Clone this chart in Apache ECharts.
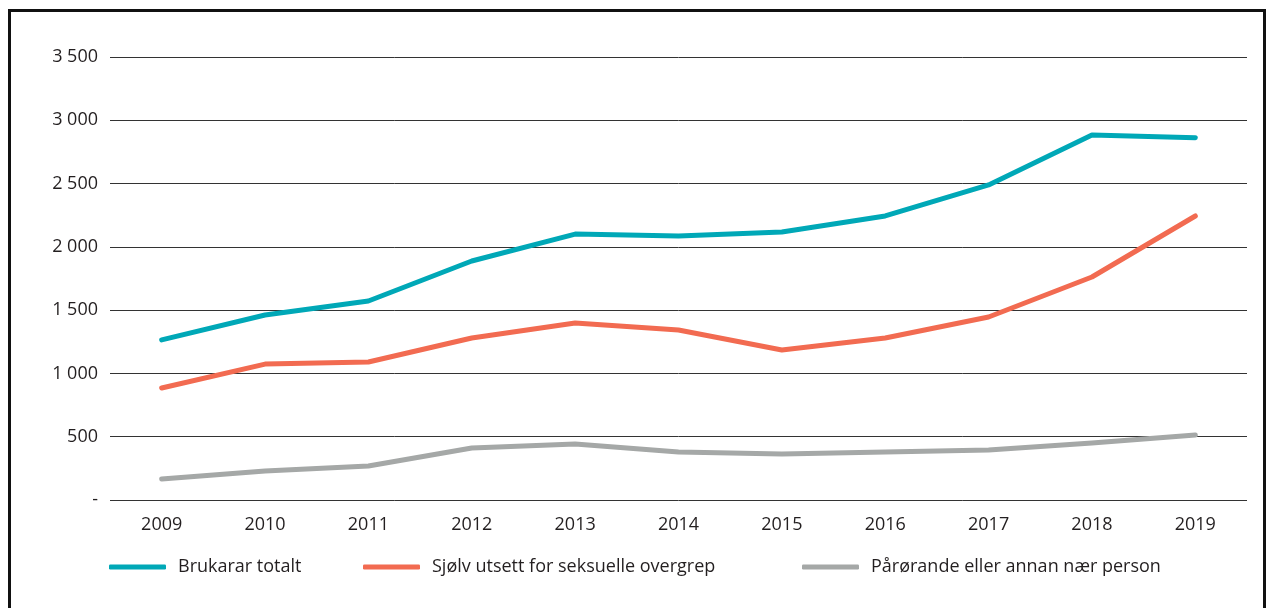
<!DOCTYPE html>
<html>
<head>
<meta charset="utf-8">
<script src="https://cdn.jsdelivr.net/npm/echarts@6/dist/echarts.min.js"></script>
<style>
  html, body { margin: 0; padding: 0; background: #fff; }
  #frame { position: absolute; left: 8px; top: 9px; width: 1258px; height: 620px;
           border: 3px solid #111; border-bottom: none; box-sizing: border-box; }
  #chart { position: absolute; left: 0; top: 0; width: 1273px; height: 608px; }
</style>
</head>
<body>
<div id="frame"></div>
<div id="chart"></div>
<script>
const years = ['2009', '2010', '2011', '2012', '2013', '2014', '2015', '2016', '2017', '2018', '2019'];
const seriesNames = ['Brukarar totalt', 'Sjølv utsett for seksuelle overgrep', 'Pårørande eller annan nær person'];
const brukarar = [1265, 1462, 1572, 1888, 2101, 2086, 2117, 2244, 2489, 2884, 2862];
const sjolv = [885, 1074, 1090, 1280, 1398, 1343, 1185, 1280, 1446, 1762, 2244];
const parorande = [166, 229, 269, 411, 442, 379, 363, 379, 395, 450, 514];
const colors = ['#00A8B7', '#F26B51', '#A5A8A7'];

const fontFamily = '"Open Sans", "Noto Sans", sans-serif';

function fmt(v) {
  if (v === 0) return '-';
  return String(v).replace(/\B(?=(\d{3})+(?!\d))/g, ' ');
}

const allData = [brukarar, sjolv, parorande];
const legendLefts = [109, 363, 802];

let myChart = echarts.init(document.getElementById('chart'), null, { renderer: 'canvas' });
myChart.setOption({
  animation: false,
  color: colors,
  grid: { left: 110, right: 26, top: 57, bottom: 108, containLabel: false },
  legend: seriesNames.map((n, i) => ({
    data: [n],
    left: legendLefts[i],
    top: 558,
    padding: 0,
    icon: 'roundRect',
    itemWidth: 57,
    itemHeight: 5,
    itemGap: 0,
    textStyle: { fontFamily: fontFamily, fontSize: 18, color: '#231f20', padding: [0, 0, 0, 7] },
  })),
  xAxis: {
    type: 'category',
    boundaryGap: true,
    data: years,
    axisLine: { show: false },
    axisTick: { show: false },
    axisLabel: { fontFamily: fontFamily, fontSize: 18, color: '#231f20', margin: 16 },
  },
  yAxis: {
    type: 'value',
    min: 0,
    max: 3500,
    interval: 500,
    axisLine: { show: false },
    axisTick: { show: false },
    splitLine: { lineStyle: { color: '#333', width: 1 } },
    axisLabel: { fontFamily: fontFamily, fontSize: 18, color: '#231f20', margin: 12, formatter: fmt },
  },
  series: seriesNames.map((n, i) => ({
    name: n,
    type: 'line',
    data: allData[i],
    symbol: 'none',
    lineStyle: { width: 5, cap: 'round', join: 'round' },
  })),
});
</script>
</body>
</html>
